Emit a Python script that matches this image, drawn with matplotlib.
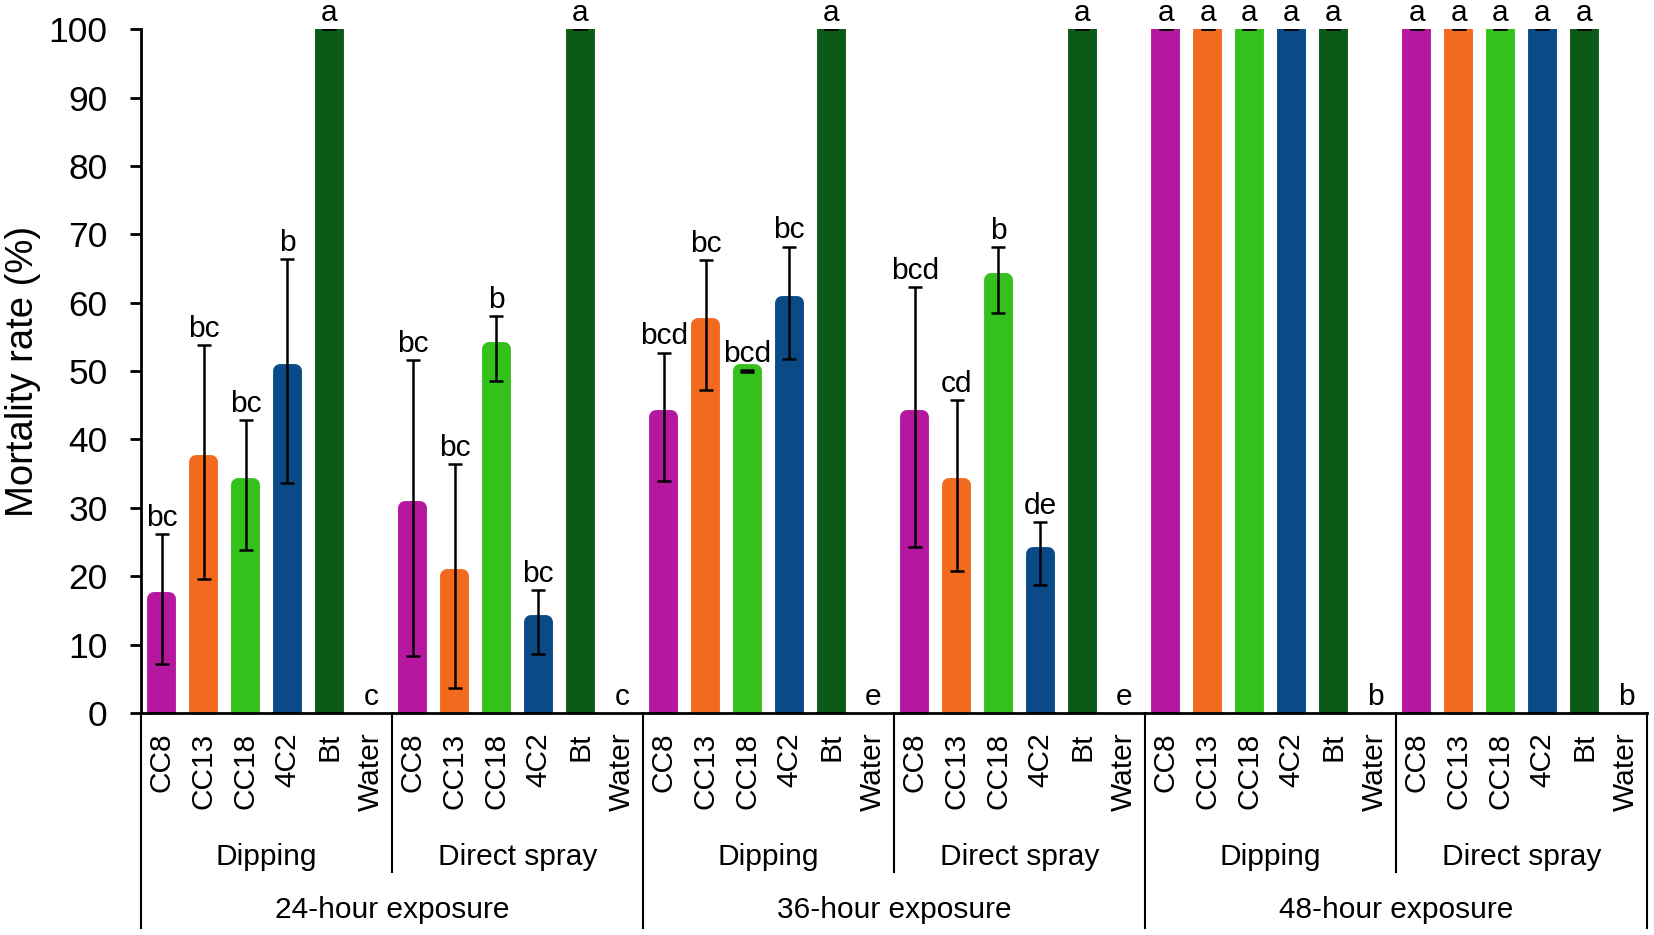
import numpy as np
import matplotlib
matplotlib.use('Agg')
import matplotlib.pyplot as plt
import matplotlib.transforms as mtransforms

plt.rcParams['font.family'] = ['Liberation Sans', 'DejaVu Sans']

treatments = ['CC8', 'CC13', 'CC18', '4C2', 'Bt', 'Water']
methods = ['Dipping', 'Direct spray']
exposures = ['24-hour exposure', '36-hour exposure', '48-hour exposure']

# mean mortality (%) and error, one list per exposure/method group
dip_24 = [16.7, 36.7, 33.3, 50.0, 100, 0]
dip_24_err = [9.5, 17.1, 9.5, 16.4, 0, 0]
spray_24 = [30.0, 20.0, 53.3, 13.3, 100, 0]
spray_24_err = [21.6, 16.4, 4.8, 4.7, 0, 0]
dip_36 = [43.3, 56.7, 50.0, 60.0, 100, 0]
dip_36_err = [9.4, 9.5, 0.2, 8.2, 0, 0]
spray_36 = [43.3, 33.3, 63.3, 23.3, 100, 0]
spray_36_err = [19.0, 12.5, 4.8, 4.6, 0, 0]
dip_48 = [100, 100, 100, 100, 100, 0]
dip_48_err = [0, 0, 0, 0, 0, 0]
spray_48 = [100, 100, 100, 100, 100, 0]
spray_48_err = [0, 0, 0, 0, 0, 0]

letters_dip_24 = ['bc', 'bc', 'bc', 'b', 'a', 'c']
letters_spray_24 = ['bc', 'bc', 'b', 'bc', 'a', 'c']
letters_dip_36 = ['bcd', 'bc', 'bcd', 'bc', 'a', 'e']
letters_spray_36 = ['bcd', 'cd', 'b', 'de', 'a', 'e']
letters_dip_48 = ['a', 'a', 'a', 'a', 'a', 'b']
letters_spray_48 = ['a', 'a', 'a', 'a', 'a', 'b']

colors = ['#B5179F', '#F26A1E', '#35C11B', '#0A4A86', '#0B5A15', 'none']

vals = np.array(dip_24 + spray_24 + dip_36 + spray_36 + dip_48 + spray_48, dtype=float)
errs = np.array(dip_24_err + spray_24_err + dip_36_err + spray_36_err + dip_48_err + spray_48_err)
letters = (letters_dip_24 + letters_spray_24 + letters_dip_36 + letters_spray_36
           + letters_dip_48 + letters_spray_48)
n = len(treatments)
x = np.arange(len(vals))
bar_colors = colors * (len(vals) // n)

fig = plt.figure(figsize=(16.54, 9.35), dpi=100)
ax = fig.add_axes([0.0852, 0.2375, 0.9105, 0.7312])

# thick edge in the same colour gives the rounded caps of the original bars
bars = ax.bar(x, vals, width=0.36, color=bar_colors, edgecolor=bar_colors,
              linewidth=10, joinstyle='round', zorder=2)

has_bar = vals > 0
ax.errorbar(x[has_bar], vals[has_bar], yerr=errs[has_bar], fmt='none', ecolor='black',
            elinewidth=1.8, capsize=5, capthick=1.8, zorder=3)

for xi, v, e, lab in zip(x, vals, errs, letters):
    ax.text(xi, v + e + 1.2, lab, ha='center', va='baseline', fontsize=21.5,
            clip_on=False, zorder=4)

ax.set_xlim(-0.5, len(vals) - 0.5)
ax.set_ylim(0, 100)
ax.set_yticks(np.arange(0, 101, 10))
ax.tick_params(axis='y', labelsize=25.5, length=8, width=2, pad=16, direction='out')
ax.set_xticks([])
for s in ['top', 'right']:
    ax.spines[s].set_visible(False)
ax.spines['left'].set_linewidth(2)
ax.spines['bottom'].set_linewidth(2)
ax.set_ylabel('Mortality rate (%)', fontsize=27.5, va='center')
ax.yaxis.set_label_coords(-0.078, 0.5)

# multi-level category axis below the plot
trans = mtransforms.blended_transform_factory(ax.transData, ax.transAxes)
for xi, lab in zip(x, treatments * (len(vals) // n)):
    ax.text(xi, -0.029, lab, rotation=90, ha='center', va='top', fontsize=21.5,
            transform=trans)

n_groups = len(vals) // n
for g in range(n_groups):
    mid = g * n + (n - 1) / 2
    ax.text(mid, -0.211, methods[g % 2], ha='center', va='center', fontsize=21.5,
            transform=trans)
    if g % 2 == 1:
        ax.plot([g * n - 0.5] * 2, [0, -0.233], color='black', lw=1.5,
                transform=trans, clip_on=False)

for k, lab in enumerate(exposures):
    ax.text((2 * k + 1) * n - 0.5, -0.288, lab, ha='center', va='center', fontsize=21.5,
            transform=trans)
for k in range(len(exposures) + 1):
    ax.plot([2 * k * n - 0.5] * 2, [0, -0.315], color='black', lw=1.5,
            transform=trans, clip_on=False)

fig.savefig('out.png', dpi=100)
